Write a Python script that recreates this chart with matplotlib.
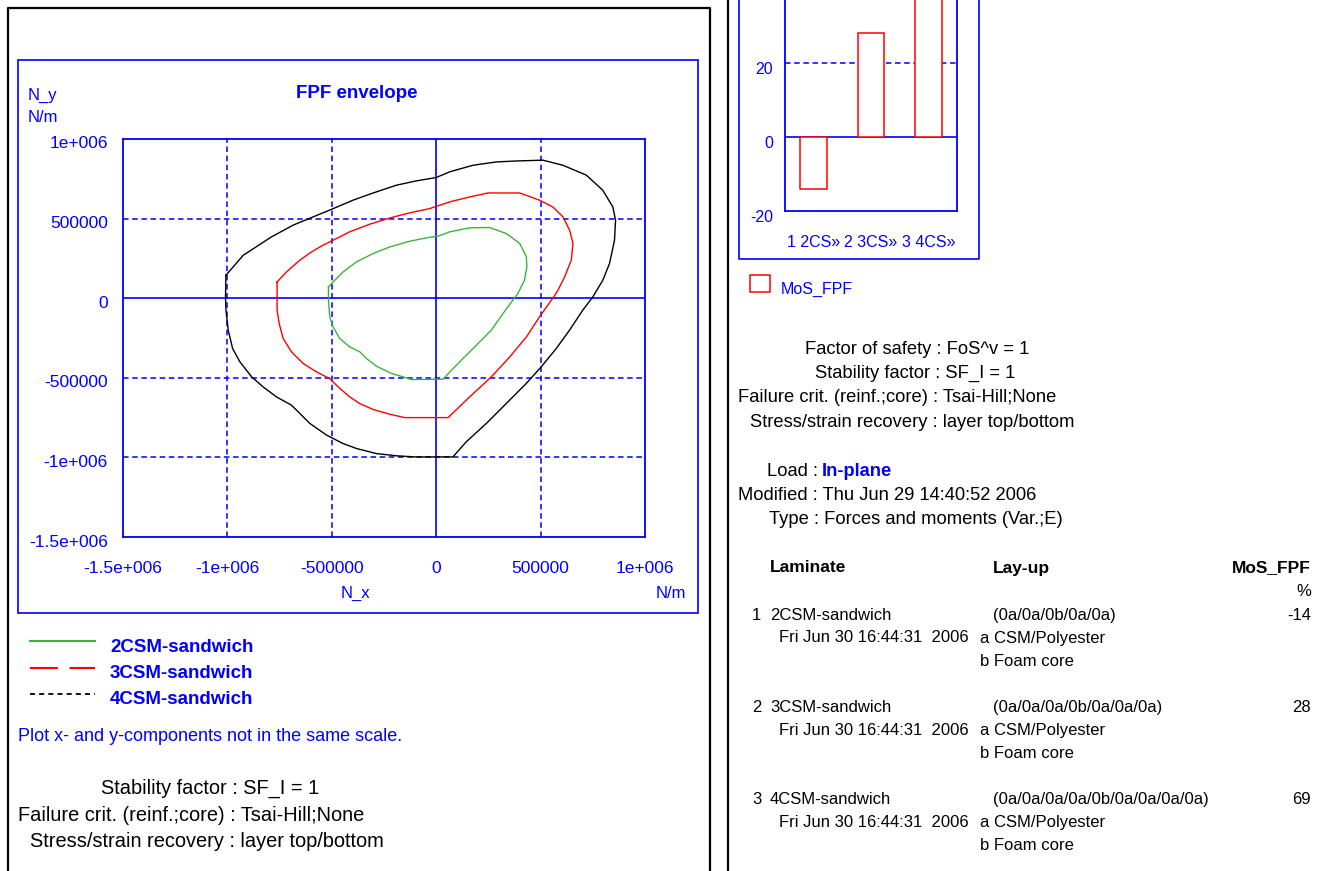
import matplotlib
matplotlib.use("Agg")
import matplotlib.pyplot as plt
from matplotlib.lines import Line2D
from matplotlib.patches import Rectangle
from matplotlib.transforms import blended_transform_factory, ScaledTranslation

W, H = 1328, 871
BLUE = "#0000ff"
RED = "#ff0000"
GREEN = "#3cb43c"
BLACK = "#000000"

plt.rcParams["font.family"] = ["Liberation Sans", "DejaVu Sans"]
plt.rcParams["lines.scale_dashes"] = False

# FPF envelopes, N_x / N_y in units of 1e6 N/m
ENV_SCALE = 1e6
env2_x = [-0.516, -0.494, -0.446, -0.382, -0.302, -0.222, -0.127, -0.047, 0.013, 0.065,
          0.16, 0.256, 0.336, 0.4, 0.432, 0.434, 0.423, 0.391, 0.367, 0.32,
          0.264, 0.2, 0.128, 0.065, 0.033, -0.12, -0.143, -0.214, -0.286, -0.334,
          -0.366, -0.414, -0.462, -0.494, -0.51, -0.516, -0.516]
env2_y = [0.071, 0.102, 0.165, 0.228, 0.281, 0.322, 0.358, 0.379, 0.391, 0.417,
          0.442, 0.444, 0.406, 0.344, 0.26, 0.197, 0.113, 0.029, -0.013, -0.096,
          -0.201, -0.285, -0.379, -0.463, -0.509, -0.511, -0.5, -0.473, -0.427, -0.379,
          -0.337, -0.306, -0.253, -0.18, -0.117, -0.013, 0.071]

env3_x = [-0.762, -0.717, -0.653, -0.597, -0.542, -0.494, -0.414, -0.318, -0.222, -0.127,
          -0.031, 0.065, 0.16, 0.248, 0.4, 0.495, 0.559, 0.607, 0.639, 0.655,
          0.647, 0.615, 0.583, 0.559, 0.551, 0.495, 0.432, 0.352, 0.264, 0.16,
          0.057, -0.151, -0.222, -0.302, -0.366, -0.414, -0.47, -0.51, -0.573, -0.637,
          -0.693, -0.733, -0.752, -0.762, -0.762]
env3_y = [0.102, 0.165, 0.239, 0.291, 0.333, 0.364, 0.417, 0.465, 0.504, 0.536,
          0.563, 0.605, 0.636, 0.661, 0.661, 0.616, 0.573, 0.511, 0.427, 0.344,
          0.239, 0.134, 0.05, 0.0, -0.013, -0.117, -0.243, -0.369, -0.494, -0.62,
          -0.75, -0.75, -0.729, -0.699, -0.662, -0.62, -0.557, -0.505, -0.463, -0.41,
          -0.337, -0.253, -0.159, -0.075, 0.102]

env4_x = [-1.007, -0.924, -0.789, -0.685, -0.589, -0.5, -0.398, -0.302, -0.19, -0.095,
          0.0, 0.065, 0.176, 0.288, 0.384, 0.511, 0.607, 0.719, 0.798, 0.846,
          0.859, 0.854, 0.83, 0.798, 0.75, 0.702, 0.639, 0.575, 0.503, 0.431,
          0.336, 0.24, 0.144, 0.08, -0.1, -0.19, -0.286, -0.382, -0.446, -0.525,
          -0.605, -0.693, -0.765, -0.829, -0.884, -0.94, -0.975, -0.996, -1.007, -1.009,
          -1.007]
env4_y = [0.144, 0.27, 0.385, 0.459, 0.511, 0.559, 0.616, 0.661, 0.71, 0.737,
          0.758, 0.794, 0.835, 0.856, 0.862, 0.867, 0.835, 0.773, 0.678, 0.573,
          0.49, 0.364, 0.218, 0.113, 0.008, -0.075, -0.2, -0.316, -0.431, -0.536,
          -0.661, -0.787, -0.902, -0.997, -0.997, -0.99, -0.976, -0.944, -0.913, -0.86,
          -0.787, -0.672, -0.62, -0.557, -0.494, -0.4, -0.316, -0.201, -0.075, 0.008,
          0.144]

laminates = ["2CSM-sandwich", "3CSM-sandwich", "4CSM-sandwich"]
lam_colors = [GREEN, RED, BLACK]
layups = ["(0a/0a/0b/0a/0a)", "(0a/0a/0a/0b/0a/0a/0a)", "(0a/0a/0a/0a/0b/0a/0a/0a/0a)"]
mos_fpf = [-14, 28, 69]
bar_labels = ["1 2CS\u00bb", "2 3CS\u00bb", "3 4CS\u00bb"]

env_ticks = [-1.5e6, -1e6, -5e5, 0, 5e5, 1e6]
env_tick_labels = ["-1.5e+006", "-1e+006", "-500000", "0", "500000", "1e+006"]
bar_ticks = [-20, 0, 20, 40]

fig = plt.figure(figsize=(W / 100, H / 100), dpi=100)
fig.patch.set_facecolor("white")


def fx(x):
    return x / W


def fy(y):
    return 1 - y / H


def ftext(x, y, s, **kw):
    kw.setdefault("va", "center")
    kw.setdefault("color", BLACK)
    fig.text(fx(x), fy(y), s, **kw)


def fline(xs, ys, **kw):
    fig.add_artist(Line2D([fx(v) for v in xs], [fy(v) for v in ys],
                          transform=fig.transFigure, **kw))


def frect(x0, y0, x1, y1, **kw):
    fig.add_artist(Rectangle((fx(x0), fy(y1)), fx(x1) - fx(x0), fy(y0) - fy(y1),
                             transform=fig.transFigure, fill=False, **kw))


# window borders
fline([8, 8, 710, 710], [875, 8, 8, 875], color=BLACK, lw=1.6)
fline([728, 728], [-5, 875], color=BLACK, lw=1.6)

# ---- left: FPF envelope ----
frect(18, 60, 698, 613, edgecolor=BLUE, lw=1.2)
ax = fig.add_axes([fx(123), fy(537), (645 - 123) / W, (537 - 139) / H])
ax.set_xlim(-1.5e6, 1e6)
ax.set_ylim(-1.5e6, 1e6)
for s in ax.spines.values():
    s.set_color(BLUE)
    s.set_linewidth(1.3)
grid_dash = (0, (4.0, 2.6))
for v in [-1e6, -5e5, 5e5]:
    ax.axvline(v, color=BLUE, lw=1.1, ls=grid_dash)
    ax.axhline(v, color=BLUE, lw=1.1, ls=grid_dash)
ax.axvline(0, color=BLUE, lw=1.2)
ax.axhline(0, color=BLUE, lw=1.2)

for xs, ys, c in [(env2_x, env2_y, GREEN), (env3_x, env3_y, RED), (env4_x, env4_y, BLACK)]:
    ax.plot([v * ENV_SCALE for v in xs], [v * ENV_SCALE for v in ys], color=c, lw=1.0)

ax.set_xticks(env_ticks, env_tick_labels)
ax.set_yticks([])
ax.tick_params(axis="x", length=0, pad=17, labelsize=12.5, labelcolor=BLUE)
ytr = blended_transform_factory(fig.transFigure, ax.transData) + \
    ScaledTranslation(0, -5 / 100, fig.dpi_scale_trans)
for v, lab in zip(env_ticks, env_tick_labels):
    ax.text(fx(108), v, lab, transform=ytr, ha="right", va="center",
            color=BLUE, fontsize=12.5, clip_on=False)

ftext(357, 93, "FPF envelope", ha="center", color=BLUE, fontsize=13.5, fontweight="bold")
ftext(28, 95, "N_y", color=BLUE, fontsize=12)
ftext(28, 118, "N/m", color=BLUE, fontsize=12)
ftext(355, 593, "N_x", ha="center", color=BLUE, fontsize=12)
ftext(686, 593, "N/m", ha="right", color=BLUE, fontsize=12)

# legend
fline([30, 95], [641, 641], color=GREEN, lw=1.5)
fline([30, 95], [668, 668], color=RED, lw=1.5, ls=(0, (20, 8.5)))
fline([30, 95], [694, 694], color=BLACK, lw=1.3, ls=(0, (3.6, 3.0)))
for i, name in enumerate(laminates):
    ftext(110, 647 + 26 * i, name, color=BLUE, fontsize=13.5, fontweight="bold")

ftext(18, 736, "Plot x- and y-components not in the same scale.", color=BLUE, fontsize=13)
ftext(101, 788, "Stability factor : SF_I = 1", fontsize=14.4)
ftext(18, 815, "Failure crit. (reinf.;core) : Tsai-Hill;None", fontsize=14.4)
ftext(30, 841, "Stress/strain recovery : layer top/bottom", fontsize=14.4)

# ---- right: MoS_FPF bars ----
fline([739, 739, 979, 979], [-5, 259, 259, -5], color=BLUE, lw=1.2)
bar_px = 3.7  # pixels per percent
bx = fig.add_axes([fx(785), fy(211), (957 - 785) / W, 100 * bar_px / H])
bx.set_xlim(0.5, 3.5)
bx.set_ylim(-20, 80)
for s in bx.spines.values():
    s.set_color(BLUE)
    s.set_linewidth(1.3)
for v in [20, 40, 60]:
    bx.axhline(v, color=BLUE, lw=1.1, ls=grid_dash)
bx.axhline(0, color=BLUE, lw=1.2)
bx.bar([1, 2, 3], mos_fpf, width=0.47, facecolor="white", edgecolor=RED, lw=1.1, zorder=3)
bx.set_xticks([1, 2, 3], bar_labels)
bx.set_yticks([])
bx.tick_params(axis="x", length=0, pad=17, labelsize=11.5, labelcolor=BLUE)
btr = blended_transform_factory(fig.transFigure, bx.transData) + \
    ScaledTranslation(0, -6 / 100, fig.dpi_scale_trans)
for v in bar_ticks:
    bx.text(fx(773), v, str(v), transform=btr, ha="right", va="center",
            color=BLUE, fontsize=11.5, clip_on=False)

frect(750, 275, 770, 292, edgecolor=RED, lw=1.1)
ftext(781, 289, "MoS_FPF", color=BLUE, fontsize=11.5)

# settings summary
ftext(805, 349, "Factor of safety : FoS^v = 1", fontsize=13.2)
ftext(815, 373, "Stability factor : SF_I = 1", fontsize=13.2)
ftext(738, 397, "Failure crit. (reinf.;core) : Tsai-Hill;None", fontsize=13.2)
ftext(750, 422, "Stress/strain recovery : layer top/bottom", fontsize=13.2)
ftext(767, 471, "Load :", fontsize=13.2)
ftext(822, 471, "In-plane", color=BLUE, fontsize=13.2, fontweight="bold")
ftext(738, 495, "Modified : Thu Jun 29 14:40:52 2006", fontsize=13.2)
ftext(769, 520, "Type : Forces and moments (Var.;E)", fontsize=13.2)

# laminate table
ftext(770, 568, "Laminate", fontsize=12.5, fontweight="bold")
ftext(993, 568, "Lay-up", fontsize=12.5, fontweight="bold")
ftext(1311, 568, "MoS_FPF", ha="right", fontsize=12.5, fontweight="bold")
ftext(1311, 592, "%", ha="right", fontsize=12)
for i, (name, lay, mos) in enumerate(zip(laminates, layups, mos_fpf)):
    y0 = 615 + 92 * i
    ftext(752, y0, str(i + 1), fontsize=12)
    ftext(770, y0, name, fontsize=12)
    ftext(993, y0, lay, fontsize=12)
    ftext(1311, y0, str(mos), ha="right", fontsize=12)
    ftext(779, y0 + 23, "Fri Jun 30 16:44:31  2006", fontsize=12)
    ftext(980, y0 + 23, "a CSM/Polyester", fontsize=12)
    ftext(980, y0 + 46, "b Foam core", fontsize=12)

fig.savefig("out.png", dpi=100, facecolor="white")
